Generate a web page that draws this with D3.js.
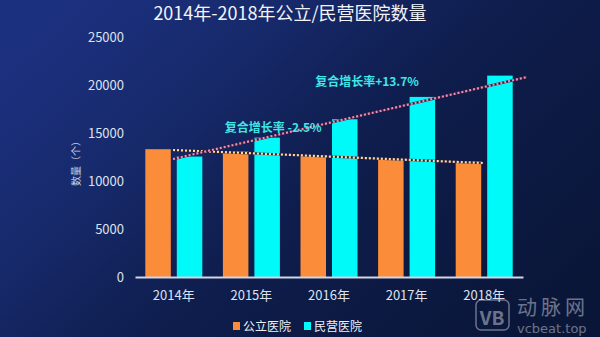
<!DOCTYPE html>
<html>
<head>
<meta charset="utf-8">
<script src="https://cdn.jsdelivr.net/npm/d3@7"></script>
<style>
    body { margin: 0; background: #0c1a45; }
    #chart { width: 600px; height: 337px; }
    text { font-family: "Noto Sans CJK SC", "Noto Sans", sans-serif; }
</style>
</head>
<body>
<div id="chart"></div>
<script>
// data
let years = ['2014年', '2015年', '2016年', '2017年', '2018年'];
let publicHospitals = [13314, 13069, 12708, 12297, 12032];
let privateHospitals = [12546, 14518, 16432, 18759, 20977];
let seriesNames = ['公立医院', '民营医院'];
let yTicks = [0, 5000, 10000, 15000, 20000, 25000];

// trend lines: [category, position inside band, value]
let privateTrend = [['2014年', 0.49, 12290], ['2018年', 1.05, 20830]];
let publicTrend = [['2014年', 0.49, 13230], ['2018年', 0.485, 11875]];
let trendLabels = [
    {text: '复合增长率+13.7%', cat: '2016年', pos: 0.99, value: 20300},
    {text: '复合增长率 -2.5%', cat: '2015年', pos: 0.78, value: 15500}
];

let colors = ['#fa8c3a', '#00f9f9'];

let width = 600, height = 337;
let svg = d3.select('#chart')
    .append('svg')
    .attr('width', width)
    .attr('height', height);

// background
let defs = svg.append('defs');
let bg = defs.append('linearGradient')
    .attr('id', 'bg')
    .attr('x1', 0).attr('y1', 0.2)
    .attr('x2', 1).attr('y2', 0.8);
bg.append('stop').attr('offset', '0%').attr('stop-color', '#1c3080');
bg.append('stop').attr('offset', '25%').attr('stop-color', '#172a6c');
bg.append('stop').attr('offset', '55%').attr('stop-color', '#0e1d4c');
bg.append('stop').attr('offset', '100%').attr('stop-color', '#0a1638');

svg.append('rect')
    .attr('width', width)
    .attr('height', height)
    .attr('fill', 'url(#bg)');

// title
svg.append('text')
    .attr('x', 290)
    .attr('y', 20)
    .attr('text-anchor', 'middle')
    .attr('fill', '#f2f4fa')
    .style('font-size', '18px')
    .text('2014年-2018年公立/民营医院数量');

// scales
let x = d3.scaleBand()
    .domain(years)
    .range([135, 523]);

let x1 = d3.scaleBand()
    .domain(seriesNames)
    .range([0, x.bandwidth()])
    .paddingInner(0.19)
    .paddingOuter(0.327);

let y = d3.scaleLinear()
    .domain([0, 25000])
    .range([277, 37]);

// y tick labels (no axis line)
let yAxis = d3.axisLeft(y)
    .tickValues(yTicks)
    .tickSize(0)
    .tickPadding(0)
    .tickFormat(d3.format('d'));

let yG = svg.append('g')
    .attr('transform', 'translate(124,0)')
    .call(yAxis);
yG.select('.domain').remove();
yG.selectAll('text')
    .attr('fill', '#dde2ee')
    .attr('dy', '0.35em')
    .style('font-size', '13px')
    .style('font-family', '"Noto Sans CJK SC", sans-serif');

svg.append('text')
    .attr('transform', 'translate(80,161) rotate(-90)')
    .attr('text-anchor', 'middle')
    .attr('fill', '#c8cfe0')
    .style('font-size', '10px')
    .text('数量（个）');

// bars
let rows = years.map((yr, i) => ({year: yr, values: [publicHospitals[i], privateHospitals[i]]}));

let groups = svg.append('g')
    .selectAll('g')
    .data(rows)
    .enter().append('g')
    .attr('transform', d => 'translate(' + x(d.year) + ',0)');

groups.selectAll('rect')
    .data(d => d.values.map((v, i) => ({key: seriesNames[i], value: v, i: i})))
    .enter().append('rect')
    .attr('x', d => x1(d.key))
    .attr('y', d => y(d.value))
    .attr('width', x1.bandwidth())
    .attr('height', d => y(0) - y(d.value))
    .attr('fill', d => colors[d.i]);

// x axis
let xAxis = d3.axisBottom(x)
    .tickSize(0)
    .tickPadding(14);

let xG = svg.append('g')
    .attr('transform', 'translate(0,' + y(0) + ')')
    .call(xAxis);
xG.select('.domain')
    .attr('stroke', '#d0d6e6')
    .attr('stroke-width', 2);
xG.selectAll('text')
    .attr('fill', '#dde2ee')
    .style('font-size', '13px')
    .style('font-family', '"Noto Sans CJK SC", sans-serif');

// trend lines
function trendLine(points, color) {
    let line = d3.line()
        .x(d => x(d[0]) + d[1] * x.step())
        .y(d => y(d[2]));
    svg.append('path')
        .datum(points)
        .attr('d', line)
        .attr('fill', 'none')
        .attr('stroke', '#3a1f3a')
        .attr('stroke-width', 2.4);
    svg.append('path')
        .datum(points)
        .attr('d', line)
        .attr('fill', 'none')
        .attr('stroke', color)
        .attr('stroke-width', 2.2)
        .attr('stroke-dasharray', '2,2');
}
trendLine(publicTrend, '#f3e2a6');
trendLine(privateTrend, '#ee8cc0');

svg.selectAll('.trend-label')
    .data(trendLabels)
    .enter().append('text')
    .attr('class', 'trend-label')
    .attr('x', d => x(d.cat) + d.pos * x.step())
    .attr('y', d => y(d.value))
    .attr('text-anchor', 'middle')
    .attr('dy', '0.35em')
    .attr('fill', '#3fe6e6')
    .style('font-size', '12px')
    .style('font-weight', 'bold')
    .text(d => d.text);

// legend
let legend = svg.append('g')
    .attr('transform', 'translate(233,322)');
let item = legend.selectAll('g')
    .data(seriesNames)
    .enter().append('g')
    .attr('transform', (d, i) => 'translate(' + i * 71 + ',0)');
item.append('rect')
    .attr('width', 7)
    .attr('height', 8)
    .attr('fill', (d, i) => colors[i]);
item.append('text')
    .attr('x', 10)
    .attr('y', 4)
    .attr('dy', '0.38em')
    .attr('fill', '#eef1f8')
    .style('font-size', '12px')
    .text(d => d);

// watermark
let wm = svg.append('g').attr('opacity', 0.5);
wm.append('rect')
    .attr('x', 476).attr('y', 300)
    .attr('width', 33).attr('height', 30)
    .attr('rx', 5)
    .attr('fill', 'none')
    .attr('stroke', '#c9cfdc')
    .attr('stroke-width', 1.5);
wm.append('text')
    .attr('x', 492).attr('y', 325)
    .attr('text-anchor', 'middle')
    .attr('fill', '#c9cfdc')
    .style('font-size', '19px')
    .style('font-weight', 'bold')
    .text('VB');
wm.append('text')
    .attr('x', 517).attr('y', 315)
    .attr('fill', '#c9cfdc')
    .style('font-size', '20px')
    .style('letter-spacing', '4px')
    .text('动脉网');
wm.append('text')
    .attr('x', 517).attr('y', 333)
    .attr('fill', '#c9cfdc')
    .style('font-size', '13px')
    .style('font-family', '"DejaVu Sans", sans-serif')
    .text('vcbeat.top');
</script>
</body>
</html>
